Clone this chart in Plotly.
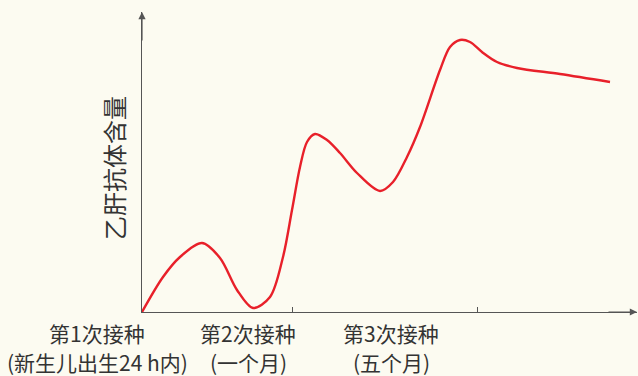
import plotly.graph_objects as go

# curve samples (arbitrary units along time axis, antibody level)
curve_x = [0, 21, 38, 60, 78, 95, 111, 128, 141, 150, 158, 165, 173, 185, 198, 215, 238, 251, 265, 278, 298, 308, 318, 328, 340, 355, 375, 418, 468]
curve_y = [0, 35, 55, 69, 54, 22, 4, 15, 55, 102, 145, 170, 178, 172, 159, 139, 121, 130, 155, 185, 242, 265, 272, 270, 260, 250, 244, 238, 230]

x_max = 495
tick_positions = [150, 335]
label_x = [-45, 106, 249]
label_line1 = ["第1次接种", "第2次接种", "第3次接种"]
label_line2 = ["(新生儿出生24 h内)", "(一个月)", "(五个月)"]
y_title = "乙肝抗体含量"

bg = "#fcfbf1"
axis_col = "#555555"
text_col = "#333333"
font_family = "Noto Sans CJK SC"

fig = go.Figure()
fig.add_trace(go.Scatter(
    x=curve_x, y=curve_y, mode="lines",
    line=dict(color="#e8202a", width=2.4, shape="spline", smoothing=0.9),
    cliponaxis=False, hoverinfo="skip", showlegend=False,
))

annotations = []
for lx, l1, l2 in zip(label_x, label_line1, label_line2):
    px = lx / x_max
    annotations.append(dict(x=px, y=0, xref="paper", yref="y", text=l1, showarrow=False,
                            xanchor="center", yanchor="middle", yshift=-21,
                            font=dict(size=21, color=text_col, family=font_family)))
    annotations.append(dict(x=px, y=0, xref="paper", yref="y", text=l2, showarrow=False,
                            xanchor="center", yanchor="middle", yshift=-50,
                            font=dict(size=21, color=text_col, family=font_family)))
annotations.append(dict(x=0, y=144, xref="x", yref="y", text=y_title, showarrow=False,
                        textangle=-90, xshift=-29,
                        font=dict(size=24, color=text_col, family=font_family)))
# arrowheads at axis ends
annotations.append(dict(x=0, y=300, xref="x", yref="y", ax=0, ay=30, axref="pixel", ayref="pixel",
                        text="", showarrow=True, arrowhead=2, arrowsize=1.2, arrowwidth=1.2,
                        arrowcolor=axis_col))
annotations.append(dict(x=x_max, y=0, xref="x", yref="y", ax=-30, ay=0, axref="pixel", ayref="pixel",
                        text="", showarrow=True, arrowhead=2, arrowsize=1.2, arrowwidth=1.2,
                        arrowcolor=axis_col))

fig.update_layout(
    width=638, height=376,
    margin=dict(l=142, r=1, t=12, b=64),
    paper_bgcolor=bg, plot_bgcolor=bg,
    annotations=annotations,
    xaxis=dict(range=[0, x_max], showgrid=False, zeroline=False, showline=True,
               linecolor=axis_col, linewidth=1.2, tickmode="array", tickvals=tick_positions,
               ticks="inside", ticklen=5, tickcolor=axis_col, showticklabels=False, fixedrange=True),
    yaxis=dict(range=[0, 300], showgrid=False, zeroline=False, showline=True,
               linecolor=axis_col, linewidth=1.2, showticklabels=False, ticks="", fixedrange=True),
)

fig.write_html("out.html", config={"displayModeBar": False},
               post_script="document.body.style.margin='0';document.body.style.background='%s';" % bg)
